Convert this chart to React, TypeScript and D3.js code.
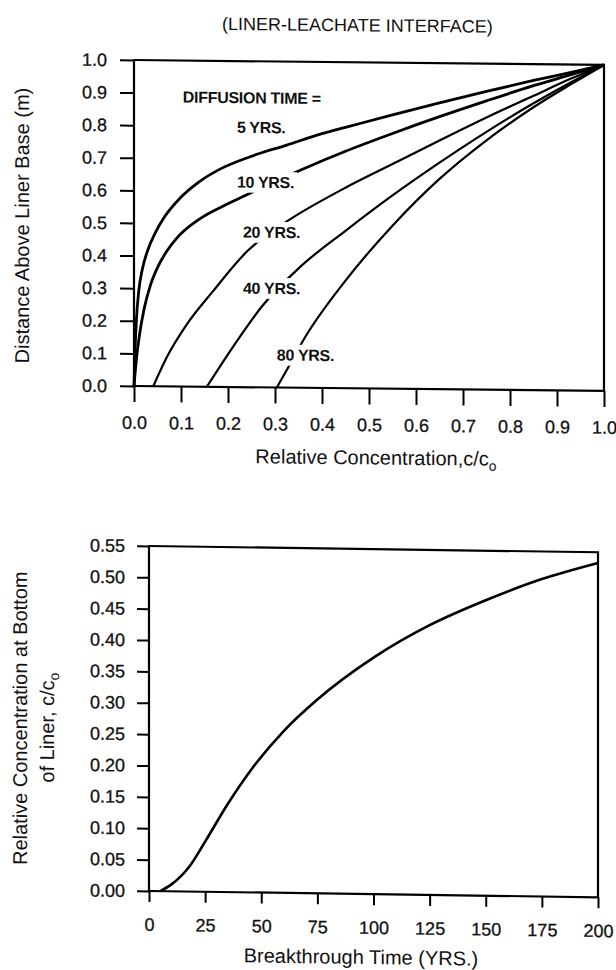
import React, { useEffect, useRef } from "react";
import * as d3 from "d3";

const width = 616;
const height = 970;

// upper plot: concentration profiles in the liner
const concTicks = [0, 0.1, 0.2, 0.3, 0.4, 0.5, 0.6, 0.7, 0.8, 0.9, 1.0];
const distTicks = [0, 0.1, 0.2, 0.3, 0.4, 0.5, 0.6, 0.7, 0.8, 0.9, 1.0];

const conc5 = [0, 0.002, 0.005, 0.01, 0.018, 0.03, 0.045, 0.065, 0.098, 0.14, 0.183, 0.247, 0.325, 0.4, 0.45, 0.55, 0.65, 0.75, 0.85, 0.93, 1.0];
const dist5 = [0, 0.1, 0.2, 0.29, 0.36, 0.42, 0.47, 0.52, 0.578, 0.63, 0.668, 0.707, 0.744, 0.78, 0.8, 0.84, 0.878, 0.915, 0.95, 0.976, 1.0];

const conc10 = [0, 0.005, 0.012, 0.022, 0.035, 0.052, 0.07, 0.091, 0.14, 0.19, 0.24, 0.29, 0.35, 0.45, 0.55, 0.65, 0.75, 0.85, 0.93, 1.0];
const dist10 = [0, 0.08, 0.16, 0.24, 0.31, 0.37, 0.415, 0.455, 0.515, 0.555, 0.59, 0.625, 0.665, 0.727, 0.783, 0.836, 0.886, 0.934, 0.969, 1.0];

const conc20 = [0.041, 0.07, 0.112, 0.169, 0.243, 0.29, 0.336, 0.45, 0.55, 0.65, 0.75, 0.85, 0.93, 1.0];
const dist20 = [0, 0.09, 0.19, 0.295, 0.42, 0.475, 0.52, 0.615, 0.689, 0.763, 0.835, 0.903, 0.957, 1.0];

const conc40 = [0.155, 0.211, 0.272, 0.353, 0.45, 0.55, 0.65, 0.75, 0.85, 0.93, 1.0];
const dist40 = [0, 0.124, 0.248, 0.37, 0.483, 0.593, 0.695, 0.791, 0.88, 0.946, 1.0];

const conc80 = [0.304, 0.325, 0.364, 0.45, 0.55, 0.65, 0.75, 0.85, 0.93, 1.0];
const dist80 = [0, 0.054, 0.155, 0.33, 0.5, 0.645, 0.765, 0.868, 0.94, 1.0];

const curveLabels = ["5 YRS.", "10 YRS.", "20 YRS.", "40 YRS.", "80 YRS."];
const labelConc = [0.219, 0.219, 0.232, 0.232, 0.304];
const labelDist = [0.797, 0.629, 0.476, 0.304, 0.1];

// lower plot: breakthrough curve at the bottom of the liner
const yearTicks = [0, 25, 50, 75, 100, 125, 150, 175, 200];
const bottomTicks = [0, 0.05, 0.1, 0.15, 0.2, 0.25, 0.3, 0.35, 0.4, 0.45, 0.5, 0.55];
const breakYears = [5, 10, 18, 25, 35, 46, 60, 75, 100, 125, 150, 175, 200];
const breakConc = [0, 0.011, 0.04, 0.08, 0.14, 0.198, 0.258, 0.309, 0.377, 0.43, 0.471, 0.506, 0.533];

const font = "'Liberation Sans', Arial, Helvetica, sans-serif";

const styleAxis = (g) => {
  g.select(".domain").remove();
  g.selectAll("line").attr("stroke", "#000").attr("stroke-width", 2);
  g.selectAll("text")
    .attr("font-size", 18)
    .attr("font-family", font)
    .attr("fill", "#111")
    .attr("stroke", "#111")
    .attr("stroke-width", 0.3);
};

const App = () => {
  const svgRef = useRef<SVGSVGElement>(null);

  useEffect(() => {
    const svg = d3.select(svgRef.current);
    svg.selectAll("*").remove();

    // ---------- upper chart ----------
    const x = d3.scaleLinear().domain([0, 1]).range([134, 604]);
    const y = d3.scaleLinear().domain([0, 1]).range([386, 60]);
    const top = svg
      .append("g")
      .attr("transform", "translate(134,0) skewY(0.6) translate(-134,0)");

    top
      .append("text")
      .attr("x", 222)
      .attr("y", 29)
      .attr("font-size", 18)
      .attr("font-family", font)
      .attr("fill", "#111")
      .text("(LINER-LEACHATE INTERFACE)");

    const gx = top
      .append("g")
      .attr("transform", `translate(0,${y(0)})`)
      .call(
        d3.axisBottom(x).tickValues(concTicks).tickFormat(d3.format(".1f")).tickSize(16).tickPadding(14)
      );
    styleAxis(gx);
    const gy = top
      .append("g")
      .attr("transform", `translate(${x(0)},0)`)
      .call(
        d3.axisLeft(y).tickValues(distTicks).tickFormat(d3.format(".1f")).tickSize(14).tickPadding(13)
      );
    styleAxis(gy);

    top
      .append("rect")
      .attr("x", x(0))
      .attr("y", y(1))
      .attr("width", x(1) - x(0))
      .attr("height", y(0) - y(1))
      .attr("fill", "none")
      .attr("stroke", "#000")
      .attr("stroke-width", 2.2);

    const profile = d3
      .line<[number, number]>()
      .x((d) => x(d[0]))
      .y((d) => y(d[1]))
      .curve(d3.curveMonotoneX);

    const series = [
      d3.zip(conc5, dist5),
      d3.zip(conc10, dist10),
      d3.zip(conc20, dist20),
      d3.zip(conc40, dist40),
      d3.zip(conc80, dist80),
    ];
    top
      .selectAll(".profile")
      .data(series)
      .join("path")
      .attr("class", "profile")
      .attr("d", (d) => profile(d as [number, number][]))
      .attr("fill", "none")
      .attr("stroke", "#000")
      .attr("stroke-width", (d, i) => (i < 2 ? 2.8 : 2.2));

    // labels sit on the curves, breaking them
    const addLabel = (parent, tx, ty, txt) => {
      const g = parent.append("g");
      const t = g
        .append("text")
        .attr("x", tx)
        .attr("y", ty)
        .attr("dy", "0.35em")
        .attr("font-size", 16)
        .attr("font-weight", "bold")
        .attr("letter-spacing", -0.3)
        .attr("font-family", font)
        .attr("fill", "#111")
        .text(txt);
      const b = (t.node() as SVGTextElement).getBBox();
      g.insert("rect", "text")
        .attr("x", b.x - 3)
        .attr("y", b.y - 2)
        .attr("width", b.width + 6)
        .attr("height", b.height + 4)
        .attr("fill", "#fff");
    };
    addLabel(top, x(0.104), y(0.888), "DIFFUSION TIME =");
    curveLabels.forEach((lab, i) => addLabel(top, x(labelConc[i]), y(labelDist[i]), lab));

    top
      .append("text")
      .attr("transform", "translate(22,226.7) rotate(-90)")
      .attr("text-anchor", "middle")
      .attr("dy", "0.35em")
      .attr("font-size", 20)
      .attr("font-family", font)
      .attr("fill", "#111")
      .text("Distance Above Liner Base (m)");

    const xt = top
      .append("text")
      .attr("x", 376)
      .attr("y", 462)
      .attr("text-anchor", "middle")
      .attr("font-size", 20)
      .attr("font-family", font)
      .attr("fill", "#111");
    xt.append("tspan").text("Relative Concentration,c/c");
    xt.append("tspan").attr("font-size", 14).attr("dy", 5).text("o");

    // ---------- lower chart ----------
    const x2 = d3.scaleLinear().domain([0, 200]).range([149, 598]);
    const y2 = d3.scaleLinear().domain([0, 0.55]).range([891, 546]);
    const bot = svg
      .append("g")
      .attr("transform", "translate(149,0) skewY(0.8) translate(-149,0)");

    const gx2 = bot
      .append("g")
      .attr("transform", `translate(0,${y2(0)})`)
      .call(d3.axisBottom(x2).tickValues(yearTicks).tickFormat(d3.format("d")).tickSize(11).tickPadding(16));
    styleAxis(gx2);
    const gy2 = bot
      .append("g")
      .attr("transform", `translate(${x2(0)},0)`)
      .call(d3.axisLeft(y2).tickValues(bottomTicks).tickFormat(d3.format(".2f")).tickSize(12).tickPadding(12));
    styleAxis(gy2);

    bot
      .append("rect")
      .attr("x", x2(0))
      .attr("y", y2(0.55))
      .attr("width", x2(200) - x2(0))
      .attr("height", y2(0) - y2(0.55))
      .attr("fill", "none")
      .attr("stroke", "#000")
      .attr("stroke-width", 2.2);

    const breakLine = d3
      .line<[number, number]>()
      .x((d) => x2(d[0]))
      .y((d) => y2(d[1]))
      .curve(d3.curveMonotoneX);
    bot
      .append("path")
      .datum(d3.zip(breakYears, breakConc))
      .attr("d", (d) => breakLine(d as [number, number][]))
      .attr("fill", "none")
      .attr("stroke", "#000")
      .attr("stroke-width", 2.6);

    bot
      .append("text")
      .attr("transform", "translate(20,720) rotate(-90)")
      .attr("text-anchor", "middle")
      .attr("dy", "0.35em")
      .attr("font-size", 20)
      .attr("font-family", font)
      .attr("fill", "#111")
      .text("Relative Concentration at Bottom");
    const yt2 = bot
      .append("text")
      .attr("transform", "translate(47,729) rotate(-90)")
      .attr("text-anchor", "middle")
      .attr("dy", "0.35em")
      .attr("font-size", 20)
      .attr("font-family", font)
      .attr("fill", "#111");
    yt2.append("tspan").text("of Liner, c/c");
    yt2.append("tspan").attr("font-size", 14).attr("dy", 5).text("o");

    bot
      .append("text")
      .attr("x", 361)
      .attr("y", 961)
      .attr("text-anchor", "middle")
      .attr("font-size", 20)
      .attr("font-family", font)
      .attr("fill", "#111")
      .text("Breakthrough Time (YRS.)");
  }, []);

  return (
    <svg
      ref={svgRef}
      width={width}
      height={height}
      style={{ position: "absolute", left: 0, top: 0, background: "#fff" }}
    />
  );
};

export default App;
